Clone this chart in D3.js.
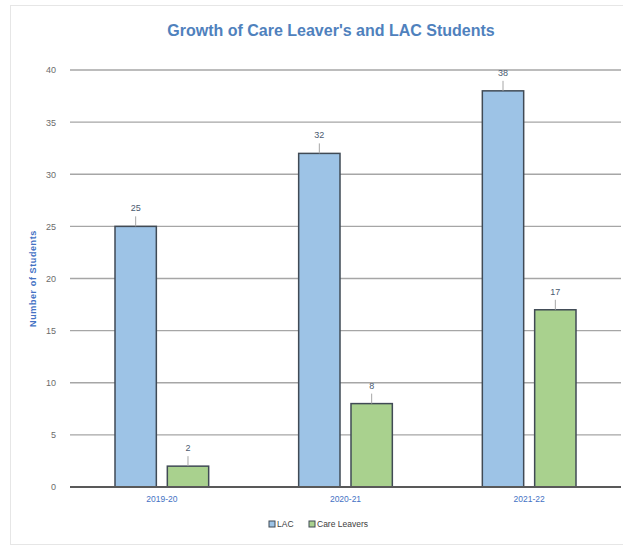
<!DOCTYPE html>
<html><head><meta charset="utf-8">
<script src="https://cdn.jsdelivr.net/npm/d3@7"></script>
<style>body{margin:0;background:#fff;}svg{display:block;font-family:"Liberation Sans",Arial,sans-serif;}</style>
</head><body>
<svg id="c" width="623" height="546"></svg>
<script>
const categories = ["2019-20", "2020-21", "2021-22"];
const seriesNames = ["LAC", "Care Leavers"];
const lacValues = [25, 32, 38];
const careLeaverValues = [2, 8, 17];
const yTicks = [0, 5, 10, 15, 20, 25, 30, 35, 40];

const colors = {"LAC": "#9dc3e6", "Care Leavers": "#a9d18e"};
const svg = d3.select("#c");
const m = {l: 70, r: 2, t: 70, b: 59};
const W = 623, H = 546;

// faint frame
svg.append("rect").attr("x", 10.5).attr("y", 5.5).attr("width", 640).attr("height", 539)
  .attr("fill", "none").attr("stroke", "#e6e6e6");

const x0 = d3.scaleBand().domain(categories).range([m.l, W - m.r]).paddingInner(0).paddingOuter(0);
const x1 = d3.scaleBand().domain(seriesNames).range([45, x0.bandwidth() - 45]).paddingInner(0.21);
const y = d3.scaleLinear().domain([0, 40]).range([H - m.b, m.t]);

// grid
svg.append("g").selectAll("line").data(yTicks.filter(d => d > 0)).join("line")
  .attr("x1", m.l).attr("x2", W - m.r)
  .attr("y1", d => y(d)).attr("y2", d => y(d))
  .attr("stroke", "#a6a6a6").attr("stroke-width", 1.3);

// y axis labels
const yAxis = d3.axisLeft(y).tickValues(yTicks).tickSize(0).tickPadding(14);
const ga = svg.append("g").attr("transform", `translate(${m.l},0)`).call(yAxis);
ga.select(".domain").remove();
ga.selectAll("text").attr("fill", "#6b6b6b").attr("font-size", 9);

// bars
const data = categories.map((c, i) => ({cat: c, vals: [
  {s: "LAC", v: lacValues[i]}, {s: "Care Leavers", v: careLeaverValues[i]}]}));
const g = svg.append("g").selectAll("g").data(data).join("g")
  .attr("transform", d => `translate(${x0(d.cat)},0)`);
g.selectAll("rect").data(d => d.vals).join("rect")
  .attr("x", d => x1(d.s)).attr("width", x1.bandwidth())
  .attr("y", d => y(d.v)).attr("height", d => y(0) - y(d.v))
  .attr("fill", d => colors[d.s]).attr("stroke", "#404a55").attr("stroke-width", 1.5);
// leader lines
g.selectAll("line.ld").data(d => d.vals).join("line").attr("class", "ld")
  .attr("x1", d => x1(d.s) + x1.bandwidth() / 2).attr("x2", d => x1(d.s) + x1.bandwidth() / 2)
  .attr("y1", d => y(d.v) - 10).attr("y2", d => y(d.v))
  .attr("stroke", "#a6a6a6").attr("stroke-width", 1);
g.selectAll("text.lbl").data(d => d.vals).join("text").attr("class", "lbl")
  .attr("x", d => x1(d.s) + x1.bandwidth() / 2).attr("y", d => y(d.v) - 15)
  .attr("text-anchor", "middle").attr("font-size", 9).attr("fill", "#4a5a70")
  .text(d => d.v);

// zero line
svg.append("line").attr("x1", m.l).attr("x2", W - m.r).attr("y1", y(0)).attr("y2", y(0))
  .attr("stroke", "#595959").attr("stroke-width", 1.8);

// x axis labels
const xAxis = d3.axisBottom(x0).tickSize(0).tickPadding(9);
const gx = svg.append("g").attr("transform", `translate(0,${y(0)})`).call(xAxis);
gx.select(".domain").remove();
gx.selectAll("text").attr("fill", "#4472c4").attr("font-size", 8.5);

// title
svg.append("text").attr("x", 331).attr("y", 36).attr("text-anchor", "middle")
  .attr("font-size", 16).attr("font-weight", "bold").attr("fill", "#4f81bd")
  .text("Growth of Care Leaver's and LAC Students");

// y axis title
svg.append("text").attr("transform", `translate(36,${(y(0) + y(40)) / 2}) rotate(-90)`)
  .attr("text-anchor", "middle").attr("font-size", 9).attr("letter-spacing", 0.6)
  .attr("font-weight", "bold").attr("fill", "#4472c4")
  .text("Number of Students");

// legend
const lg = svg.append("g").attr("transform", "translate(269,527)");
const items = [{s: "LAC", x: 0}, {s: "Care Leavers", x: 40}];
items.forEach(it => {
  lg.append("rect").attr("x", it.x).attr("y", -6).attr("width", 6).attr("height", 6)
    .attr("fill", colors[it.s]).attr("stroke", "#404a55").attr("stroke-width", 1);
  lg.append("text").attr("x", it.x + 8).attr("y", 0).attr("font-size", 8.5).attr("fill", "#404040").text(it.s);
});
</script>
</body></html>
